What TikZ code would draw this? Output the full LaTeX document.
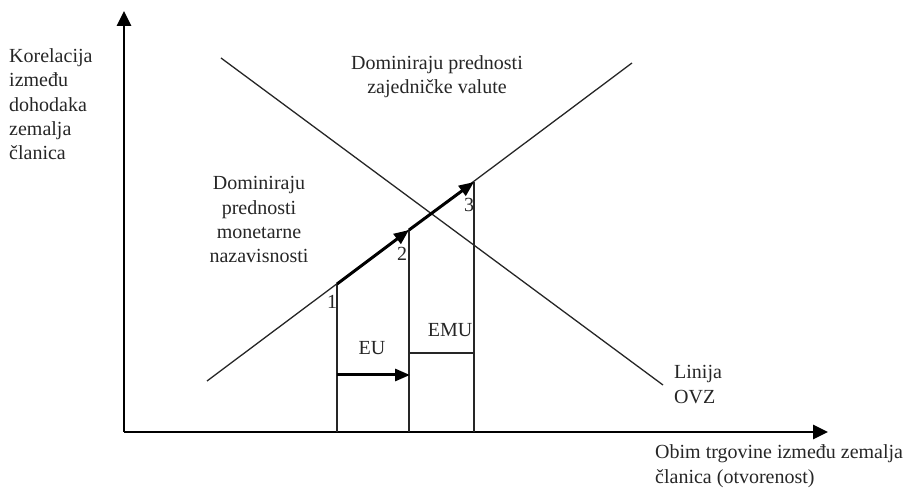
\documentclass[tikz,border=0pt]{standalone}
\usepackage{fontspec}
\setmainfont{Liberation Serif}
\usetikzlibrary{arrows.meta}
\begin{document}
\begin{tikzpicture}[x=1pt,y=-1pt,
  thinline/.style={line width=1.3pt,draw=black!85},
  axis/.style={line width=2.6pt,-{Triangle[length=15pt,width=14pt]}},
  thickarrow/.style={line width=3pt,-{Triangle[length=15pt,width=12pt]}},
  lbl/.style={inner sep=0pt,font=\fontsize{20}{24.4}\selectfont,text=black!85}]
\useasboundingbox (0,0) rectangle (906,489);
% axes
\coordinate (O) at (124,432);
\coordinate (Ytop) at (124,11);
\coordinate (Xend) at (828,432);
\draw[axis] (O) -- (Ytop);
\draw[axis] (O) -- (Xend);
% lines
\coordinate (Astart) at (207,381);
\coordinate (Aend) at (632,63);
\coordinate (Bstart) at (221,58);
\coordinate (Bend) at (663,385);
\draw[thinline] (Astart) -- (Aend);
\draw[thinline] (Bstart) -- (Bend);
% points
\coordinate (P1) at (337,284);
\coordinate (P2) at (409,230);
\coordinate (P3) at (474,182);
\coordinate (F1) at (337,432);
\coordinate (F2) at (409,432);
\coordinate (F3) at (474,432);
\draw[thinline] (P1) -- (F1);
\draw[thinline] (P2) -- (F2);
\draw[thinline] (P3) -- (F3);
\coordinate (M2) at (409,353);
\coordinate (M3) at (474,353);
\draw[thinline] (M2) -- (M3);
\draw[thickarrow] (P1) -- (P2);
\draw[thickarrow] (P2) -- (P3);
\coordinate (E1) at (337,375);
\coordinate (E2) at (410,375);
\draw[thickarrow] (E1) -- (E2);
% labels
\node[lbl,anchor=base] (n1) at (332,309) {1};
\node[lbl,anchor=base] (n2) at (402,261) {2};
\node[lbl,anchor=base] (n3) at (469,212) {3};
\node[lbl,anchor=base] (eu) at (372,355) {EU};
\node[lbl,anchor=base] (emu) at (450,337) {EMU};
\node[lbl,anchor=base west,align=left] (ylab) at (9,160) {Korelacija\\između\\dohodaka\\zemalja\\članica};
\node[lbl,anchor=base,align=center] (left) at (259,263) {Dominiraju\\prednosti\\monetarne\\nazavisnosti};
\node[lbl,anchor=base,align=center] (top) at (437,94) {Dominiraju prednosti\\zajedničke valute};
\node[lbl,anchor=base west,align=left] (ovz) at (674,403) {Linija\\OVZ};
\node[lbl,anchor=base west,align=left] (xlab) at (655,483) {Obim trgovine između zemalja\\članica (otvorenost)};
\end{tikzpicture}
\end{document}
